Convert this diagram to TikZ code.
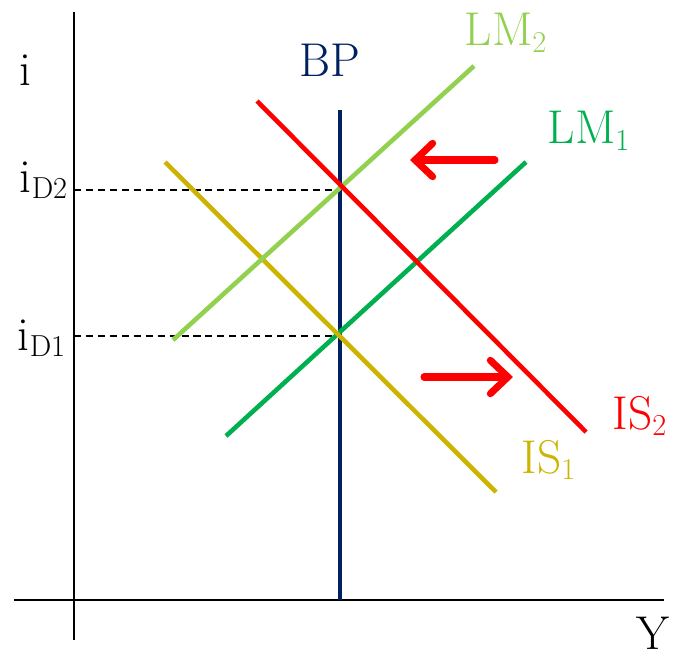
\documentclass[tikz,border=0pt]{standalone}
\usepackage{tikz}
\usetikzlibrary{arrows.meta,positioning}

\definecolor{bpblue}{HTML}{002060}
\definecolor{lmlight}{HTML}{92D050}
\definecolor{lmdark}{HTML}{00B050}
\definecolor{isyellow}{HTML}{CCB400}
\definecolor{isred}{HTML}{FF0000}

\begin{document}
\begin{tikzpicture}[
    x=0.02cm, y=-0.02cm,
    font=\fontsize{27}{32}\selectfont,
    axisline/.style={line width=1.2pt, draw=black},
    guideline/.style={line width=1.1pt, dash pattern=on 4pt off 2.8pt},
    schedule/.style={line width=2.6pt},
    shiftarrow/.style={-{Straight Barb[length=10pt,width=19pt,line cap=round]}, line width=4pt, draw=isred, line cap=round}
]
    \useasboundingbox (0,0) rectangle (674,657);

    % Axes
    \coordinate (ytop) at (74,12);
    \coordinate (ybot) at (74,640);
    \coordinate (xleft) at (14,600);
    \coordinate (xright) at (664,600);
    \draw[axisline] (ytop) -- (ybot);
    \draw[axisline] (xleft) -- (xright);

    \node (ilabel) at (25,70) {i};
    \node[inner sep=1pt] (ylabel) at (653,633) {Y};

    % End points of the schedules
    \coordinate (bps) at (340,600);
    \coordinate (bpe) at (340,110);
    \coordinate (lm1s) at (226,436);
    \coordinate (lm1e) at (526,162);
    \coordinate (lm2s) at (173,340);
    \coordinate (lm2e) at (474,66);
    \coordinate (is1s) at (165,162);
    \coordinate (is1e) at (496,492);
    \coordinate (is2s) at (257,101);
    \coordinate (is2e) at (586,432);

    % Equilibrium levels
    \coordinate (d2axis) at (74,190);
    \coordinate (d2bp) at (340,190);
    \coordinate (d1axis) at (74,336);
    \coordinate (d1bp) at (340,336);
    \draw[guideline] (d2axis) -- (d2bp);
    \draw[guideline] (d1axis) -- (d1bp);
    \node (id2) at (44,180) {i$_{\mathrm{D2}}$};
    \node (id1) at (42,338) {i$_{\mathrm{D1}}$};

    % Schedules (order matters for overlaps)
    \draw[schedule, bpblue] (bps) -- (bpe);
    \draw[schedule, lmdark] (lm1s) -- (lm1e);
    \draw[schedule, isyellow] (is1s) -- (is1e);
    \draw[schedule, lmlight] (lm2s) -- (lm2e);
    \draw[schedule, isred] (is2s) -- (is2e);

    \node[text=bpblue] (bplabel) at (330,60) {BP};
    \node[text=lmlight] (lm2label) at (506,33) {LM$_2$};
    \node[text=lmdark] (lm1label) at (589,131) {LM$_1$};
    \node[text=isred] (is2label) at (640,416) {IS$_2$};
    \node[text=isyellow] (is1label) at (549,460) {IS$_1$};

    % Shifts
    \coordinate (lmshifts) at (495,160);
    \coordinate (lmshifte) at (410,160);
    \coordinate (isshifts) at (424,377);
    \coordinate (isshifte) at (513,377);
    \draw[shiftarrow] (lmshifts) -- (lmshifte);
    \draw[shiftarrow] (isshifts) -- (isshifte);

\end{tikzpicture}
\end{document}
